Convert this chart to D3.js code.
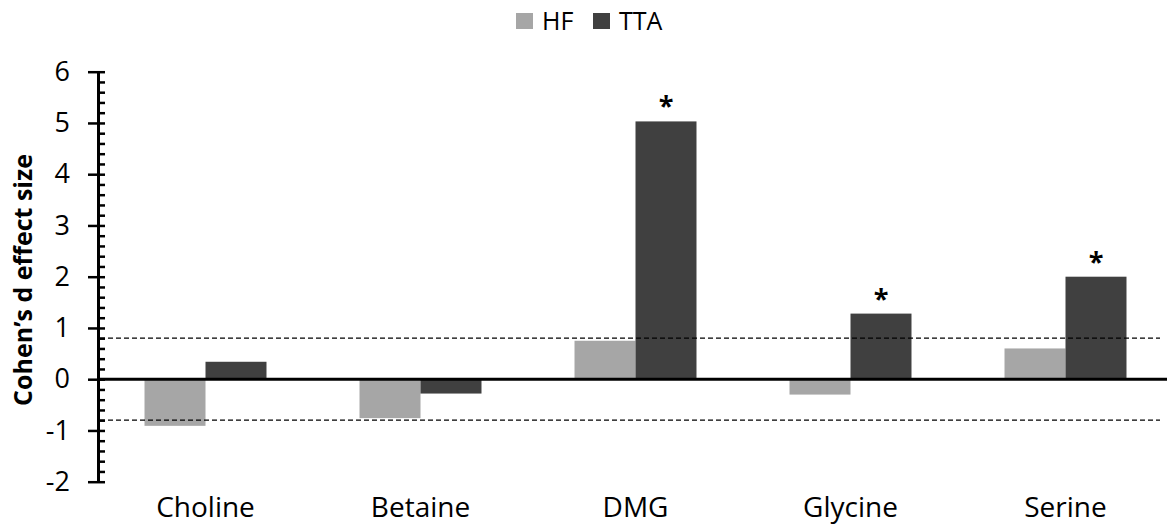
<!DOCTYPE html>
<html>
<head>
<meta charset="utf-8">
<script src="https://cdn.jsdelivr.net/npm/d3@7"></script>
<style>
  body { margin: 0; background: #fff; }
  text { font-family: "Open Sans", sans-serif; fill: #000; }
</style>
</head>
<body>
<svg width="1167" height="526"></svg>
<script>
const categories = ["Choline", "Betaine", "DMG", "Glycine", "Serine"];
const series = ["HF", "TTA"];
const hfValues = [-0.91, -0.76, 0.75, -0.3, 0.6];
const ttaValues = [0.34, -0.28, 5.03, 1.28, 2.0];
const significant = [false, false, true, true, true]; // asterisk on TTA bar
const yTicks = [-2, -1, 0, 1, 2, 3, 4, 5, 6];
const thresholds = [0.8, -0.8];

const colors = { HF: "#a6a6a6", TTA: "#404040" };

const svg = d3.select("svg");

const x0 = d3.scaleBand()
  .domain(categories)
  .range([98, 1173])
  .paddingInner(0.4326)
  .paddingOuter(0.2163);

const x1 = d3.scaleBand()
  .domain(series)
  .range([0, x0.bandwidth()]);

const y = d3.scaleLinear()
  .domain([-2, 6])
  .range([481.7, 71.7]);

const rows = categories.map((c, i) => ({
  cat: c,
  values: [
    { key: "HF", value: hfValues[i] },
    { key: "TTA", value: ttaValues[i] }
  ],
  sig: significant[i]
}));

// bars
const groups = svg.append("g")
  .selectAll("g")
  .data(rows)
  .enter()
  .append("g")
  .attr("transform", d => `translate(${x0(d.cat)},0)`);

groups.selectAll("rect")
  .data(d => d.values)
  .enter()
  .append("rect")
  .attr("x", d => x1(d.key))
  .attr("width", x1.bandwidth())
  .attr("y", d => y(Math.max(0, d.value)))
  .attr("height", d => Math.abs(y(d.value) - y(0)))
  .attr("fill", d => colors[d.key]);

// asterisks
groups.filter(d => d.sig)
  .append("text")
  .attr("x", x1("TTA") + x1.bandwidth() / 2)
  .attr("y", d => y(d.values[1].value) - 6)
  .attr("text-anchor", "middle")
  .style("font-size", "27px")
  .style("font-weight", "bold")
  .text("*");

// threshold lines
svg.append("g")
  .selectAll("line")
  .data(thresholds)
  .enter()
  .append("line")
  .attr("x1", 100)
  .attr("x2", 1160)
  .attr("y1", d => y(d))
  .attr("y2", d => y(d))
  .attr("stroke", "#000")
  .attr("stroke-width", 1.3)
  .attr("stroke-dasharray", "5,3");

// zero line
svg.append("line")
  .attr("x1", 98)
  .attr("x2", 1167)
  .attr("y1", y(0))
  .attr("y2", y(0))
  .attr("stroke", "#000")
  .attr("stroke-width", 3);

// y axis: minor ticks on the right side
const minor = d3.range(-2, 6.001, 0.2);
svg.append("g")
  .attr("transform", "translate(98,0)")
  .call(d3.axisRight(y).tickValues(minor).tickSize(7).tickFormat(""))
  .call(g => g.select(".domain").remove())
  .call(g => g.selectAll("line").attr("stroke-width", 2.5));

const yAxis = svg.append("g")
  .attr("transform", "translate(98,0)")
  .call(d3.axisLeft(y).tickValues(yTicks).tickSize(10).tickSizeOuter(0).tickPadding(18)
    .tickFormat(d => String(d)));
yAxis.select(".domain").attr("stroke-width", 3);
yAxis.selectAll("line").attr("stroke-width", 2.5);
yAxis.selectAll("text")
  .style("font-size", "27px")
  .style("font-family", "Open Sans, sans-serif")
  .attr("fill", "#000");

// category labels
svg.append("g")
  .selectAll("text")
  .data(categories)
  .enter()
  .append("text")
  .attr("x", d => x0(d) + x0.bandwidth() / 2)
  .attr("y", 517)
  .attr("text-anchor", "middle")
  .style("font-size", "28px")
  .text(d => d);

// y title
svg.append("text")
  .attr("transform", "translate(32,280) rotate(-90)")
  .attr("text-anchor", "middle")
  .style("font-size", "25px")
  .style("font-weight", "bold")
  .text("Cohen’s d effect size");

// legend
const legend = svg.append("g")
  .selectAll("g")
  .data(series)
  .enter()
  .append("g")
  .attr("transform", (d, i) => `translate(${516 + i * 77},13)`);

legend.append("rect")
  .attr("width", 17)
  .attr("height", 16)
  .attr("fill", d => colors[d]);

legend.append("text")
  .attr("x", 26)
  .attr("y", 17)
  .style("font-size", "25px")
  .text(d => d);
</script>
</body>
</html>
